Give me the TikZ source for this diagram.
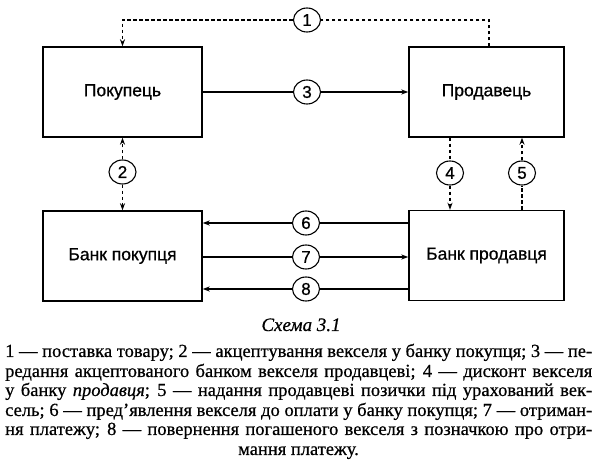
\documentclass[tikz,border=0pt]{standalone}
\usepackage{fontspec}
\setmainfont[FakeBold=0.6]{Liberation Serif}
\newfontfamily\boxfont[FakeBold=0.8]{Liberation Sans}
\usetikzlibrary{arrows.meta,shapes.geometric}
\begin{document}
\begin{tikzpicture}[x=1pt,y=-1pt,
 blk/.style={draw,line width=1.4pt,minimum width=159pt,minimum height=90pt,inner sep=0pt,font=\boxfont\fontsize{17.5}{19}\selectfont},
 num/.style={draw,ellipse,line width=1.1pt,minimum width=27pt,minimum height=24pt,inner sep=0pt,font=\boxfont\fontsize{17}{19}\selectfont},
 arr/.style={-{Stealth[length=7pt,width=5pt]}},
 ln/.style={line width=1.1pt},
 dsh/.style={line width=1.1pt,dash pattern=on 3.5pt off 2.5pt},
 txt/.style={anchor=base west,inner sep=0pt,font=\fontsize{18.5}{20}\selectfont}]
\useasboundingbox (0,0) rectangle (598,465);
\fill[white] (0,0) rectangle (598,465);
% boxes
\node[blk] (buy) at (122.5,92) {Покупець};
\node[blk,minimum width=155pt] (sel) at (486.5,92) {Продавець};
\node[blk] (bb) at (122.5,256) {Банк покупця};
\node[blk,minimum width=155pt] (sb) at (486.5,255.5) {Банк продавця};
% numbered circles
\node[num] (n1) at (307,20) {1};
\node[num] (n2) at (122.5,172) {2};
\node[num] (n3) at (307,92) {3};
\node[num] (n4) at (450,173) {4};
\node[num] (n5) at (522,173) {5};
\node[num] (n6) at (306,223) {6};
\node[num] (n7) at (306,257) {7};
\node[num] (n8) at (306,289) {8};
% connector 1
\coordinate (c1a) at (489,20);
\coordinate (c1b) at (122.5,20);
\draw[dsh] (sel.north -| c1a) -- (c1a) -- (n1);
\draw[dsh,arr] (n1) -- (c1b) -- (buy.north);
% connector 2
\draw[dsh,arr] (n2) -- (buy.south);
\draw[dsh,arr] (n2) -- (bb.north);
% connector 3
\draw[ln] (buy.east) -- (n3);
\draw[ln,arr] (n3) -- (sel.west);
% connector 4
\draw[dsh] (sel.south -| n4) -- (n4);
\draw[dsh,arr] (n4) -- (n4 |- sb.north);
% connector 5
\draw[dsh] (n5 |- sb.north) -- (n5);
\draw[dsh,arr] (n5) -- (n5 |- sel.south);
% connectors 6-8
\draw[ln] (sb.west |- n6) -- (n6);
\draw[ln,arr] (n6) -- (n6 -| bb.east);
\draw[ln] (n7 -| bb.east) -- (n7);
\draw[ln,arr] (n7) -- (n7 -| sb.west);
\draw[ln] (sb.west |- n8) -- (n8);
\draw[ln,arr] (n8) -- (n8 -| bb.east);
% caption
\node[anchor=base,inner sep=0pt,font=\itshape\fontsize{19}{21}\selectfont] (cap) at (301,331) {Схема 3.1};
\node[txt] (l1) at (5,357) {\makebox[587pt][s]{1 — поставка товару; 2 — акцептування векселя у банку покупця; 3 — пе-}};
\node[txt] (l2) at (5,377) {\makebox[587pt][s]{редання акцептованого банком векселя продавцеві; 4 — дисконт векселя}};
\node[txt] (l3) at (5,396) {\makebox[587pt][s]{у банку \textit{продавця}; 5 — надання продавцеві позички під урахований век-}};
\node[txt] (l4) at (5,416) {\makebox[587pt][s]{сель; 6 — пред’явлення векселя до оплати у банку покупця; 7 — отриман-}};
\node[txt] (l5) at (5,435) {\makebox[587pt][s]{ня платежу; 8 — повернення погашеного векселя з позначкою про отри-}};
\node[anchor=base,inner sep=0pt,font=\fontsize{18.5}{20}\selectfont] (l6) at (298.5,455) {мання платежу.};
\end{tikzpicture}
\end{document}
